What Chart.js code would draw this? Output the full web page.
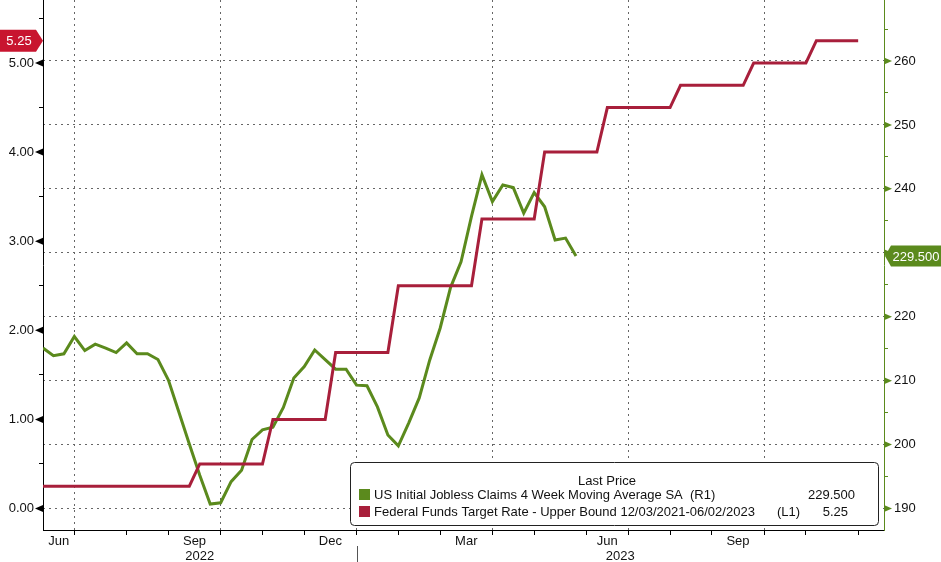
<!DOCTYPE html>
<html>
<head>
<meta charset="utf-8">
<script src="https://cdn.jsdelivr.net/npm/chart.js@4.4.1/dist/chart.umd.min.js"></script>
<style>
  html, body { margin: 0; padding: 0; background: #fff; }
</style>
</head>
<body>
<canvas id="chart" width="941" height="562"></canvas>
<script>
// weekly jobless claims, 4 week moving average (right axis, thousands)
const claimsDates = [
  '2022-06-04', '2022-06-11', '2022-06-18', '2022-06-25', '2022-07-02', '2022-07-09', '2022-07-16',
  '2022-07-23', '2022-07-30', '2022-08-06', '2022-08-13', '2022-08-20', '2022-08-27', '2022-09-03',
  '2022-09-10', '2022-09-17', '2022-09-24', '2022-10-01', '2022-10-08', '2022-10-15', '2022-10-22',
  '2022-10-29', '2022-11-05', '2022-11-12', '2022-11-19', '2022-11-26', '2022-12-03', '2022-12-10',
  '2022-12-17', '2022-12-24', '2022-12-31', '2023-01-07', '2023-01-14', '2023-01-21', '2023-01-28',
  '2023-02-04', '2023-02-11', '2023-02-18', '2023-02-25', '2023-03-04', '2023-03-11', '2023-03-18',
  '2023-03-25', '2023-04-01', '2023-04-08', '2023-04-15', '2023-04-22', '2023-04-29', '2023-05-06',
  '2023-05-13', '2023-05-20', '2023-05-27'
];
const claimsValues = [
  215.1, 213.9, 214.2, 216.9, 214.7, 215.7, 215.1, 214.4, 215.9, 214.2, 214.2, 213.3, 210.1, 205.1,
  200.1, 195.2, 190.7, 190.9, 194.2, 196.0, 200.8, 202.3, 202.7, 205.8, 210.4, 212.2, 214.8, 213.3,
  211.8, 211.8, 209.3, 209.2, 205.9, 201.5, 199.8, 203.4, 207.3, 213.2, 218.2, 224.6, 228.6, 235.7,
  242.2, 238.0, 240.6, 240.2, 236.2, 239.4, 237.2, 232.0, 232.3, 229.5
];

// fed funds upper bound (left axis, %), as plotted
const rateDates = [
  '2022-06-04', '2022-09-10', '2022-09-17', '2022-10-29', '2022-11-05', '2022-12-10', '2022-12-17',
  '2023-01-21', '2023-01-28', '2023-03-18', '2023-03-25', '2023-04-29', '2023-05-06', '2023-06-10',
  '2023-06-17', '2023-07-29', '2023-08-05', '2023-09-16', '2023-09-23', '2023-10-28', '2023-11-04',
  '2023-12-02'
];
const rateValues = [
  0.25, 0.25, 0.50, 0.50, 1.00, 1.00, 1.75, 1.75, 2.50, 2.50, 3.25, 3.25, 4.00, 4.00,
  4.50, 4.50, 4.75, 4.75, 5.00, 5.00, 5.25, 5.25
];

// axis ticks
const monthTickDates = [
  '2022-06-25', '2022-07-30', '2022-08-27', '2022-10-01', '2022-10-29', '2022-11-26', '2022-12-31',
  '2023-01-28', '2023-02-25', '2023-04-01', '2023-04-29', '2023-06-03', '2023-07-01', '2023-07-29',
  '2023-08-26', '2023-09-30', '2023-10-28', '2023-12-02'
];
const quarterTickDates = ['2022-06-25', '2022-10-01', '2022-12-31', '2023-04-01', '2023-07-01', '2023-09-30'];
const monthLabels = ['Jun', 'Sep', 'Dec', 'Mar', 'Jun', 'Sep'];
const monthLabelSpans = [
  ['2022-06-04', '2022-06-25'], ['2022-08-27', '2022-10-01'], ['2022-11-26', '2022-12-31'],
  ['2023-02-25', '2023-04-01'], ['2023-06-03', '2023-07-01'], ['2023-08-26', '2023-09-30']
];
const yearLabels = ['2022', '2023'];
const yearBreak = '2022-12-31';
const leftTicks = [0, 0.5, 1, 1.5, 2, 2.5, 3, 3.5, 4, 4.5, 5, 5.5];
const rightTicks = [190, 195, 200, 205, 210, 215, 220, 225, 230, 235, 240, 245, 250, 255, 260, 265];

const claimsName = 'US Initial Jobless Claims 4 Week Moving Average SA  (R1)';
const rateName = 'Federal Funds Target Rate - Upper Bound 12/03/2021-06/02/2023';

const GREEN = '#5b8a1d';
const RED = '#a81f3b';
const BOX_RED = '#c8152f';
const FONT = '"Liberation Sans", Arial, sans-serif';

const BASE = Date.UTC(2022, 5, 4);
function dayOf(s) {
  const p = s.split('-').map(Number);
  return (Date.UTC(p[0], p[1] - 1, p[2]) - BASE) / 864e5;
}
const quarterDays = quarterTickDates.map(dayOf);

Chart.defaults.font.family = FONT;
Chart.defaults.font.size = 13;
Chart.defaults.color = '#111';

function noPad(w, h) {
  return function (s) {
    if (w) s.width = w;
    if (h) s.height = h;
    s.paddingTop = 0; s.paddingBottom = 0; s.paddingLeft = 0; s.paddingRight = 0;
  };
}

function arrowBox(ctx, x, y, w, h, tipLeft, color, text) {
  ctx.fillStyle = color;
  ctx.beginPath();
  if (tipLeft) {
    ctx.moveTo(x, y);
    ctx.lineTo(x + 6, y - h / 2);
    ctx.lineTo(x + w, y - h / 2);
    ctx.lineTo(x + w, y + h / 2);
    ctx.lineTo(x + 6, y + h / 2);
  } else {
    ctx.moveTo(x + w, y);
    ctx.lineTo(x + w - 7, y - h / 2);
    ctx.lineTo(x, y - h / 2);
    ctx.lineTo(x, y + h / 2);
    ctx.lineTo(x + w - 7, y + h / 2);
  }
  ctx.closePath();
  ctx.fill();
  ctx.fillStyle = '#fff';
  ctx.textBaseline = 'middle';
  ctx.textAlign = 'center';
  ctx.fillText(text, tipLeft ? x + 3 + w / 2 : x + (w - 7) / 2 + 1, y + 1);
}

const decorations = {
  id: 'decorations',
  afterDraw(chart) {
    const ctx = chart.ctx;
    const xs = chart.scales.x, yl = chart.scales.y, yr = chart.scales.y1;
    const area = chart.chartArea;
    ctx.save();
    ctx.font = '13px ' + FONT;

    // tick arrows
    leftTicks.filter(v => Number.isInteger(v)).forEach(v => {
      const y = yl.getPixelForValue(v);
      ctx.fillStyle = '#000';
      ctx.beginPath();
      ctx.moveTo(area.left, y - 3.5);
      ctx.lineTo(area.left, y + 3.5);
      ctx.lineTo(area.left - 8, y);
      ctx.closePath();
      ctx.fill();
    });
    rightTicks.filter(v => v % 10 === 0).forEach(v => {
      const y = yr.getPixelForValue(v);
      ctx.fillStyle = GREEN;
      ctx.beginPath();
      ctx.moveTo(area.right, y - 3.5);
      ctx.lineTo(area.right, y + 3.5);
      ctx.lineTo(area.right + 8, y);
      ctx.closePath();
      ctx.fill();
    });

    // x labels
    ctx.fillStyle = '#111';
    ctx.textAlign = 'center';
    ctx.textBaseline = 'middle';
    monthLabels.forEach((m, i) => {
      const a = Math.max(area.left, xs.getPixelForValue(dayOf(monthLabelSpans[i][0])));
      const b = xs.getPixelForValue(dayOf(monthLabelSpans[i][1]));
      ctx.fillText(m, (a + b) / 2, 541);
    });
    const xb = xs.getPixelForValue(dayOf(yearBreak));
    ctx.fillText(yearLabels[0], (area.left + xb) / 2, 556);
    ctx.fillText(yearLabels[1], (xb + area.right) / 2, 556);
    ctx.strokeStyle = '#555';
    ctx.lineWidth = 1;
    ctx.beginPath();
    ctx.moveTo(Math.round(xb) + 0.5, 546);
    ctx.lineTo(Math.round(xb) + 0.5, 562);
    ctx.stroke();

    // last value boxes
    const lastRate = rateValues[rateValues.length - 1];
    const lastClaims = claimsValues[claimsValues.length - 1];
    arrowBox(ctx, 0, yl.getPixelForValue(lastRate), 43, 22, false, BOX_RED, lastRate.toFixed(2));
    arrowBox(ctx, area.right + 1, yr.getPixelForValue(lastClaims), 56, 21, true, GREEN, lastClaims.toFixed(3));

    // legend box
    ctx.fillStyle = '#fff';
    ctx.strokeStyle = '#222';
    ctx.beginPath();
    ctx.roundRect(350.5, 462.5, 528, 63, 4);
    ctx.fill();
    ctx.stroke();
    ctx.fillStyle = '#111';
    ctx.textAlign = 'center';
    ctx.fillText('Last Price', 607, 481);
    ctx.fillStyle = GREEN;
    ctx.fillRect(359, 489, 11, 11);
    ctx.fillStyle = RED;
    ctx.fillRect(359, 506, 11, 11);
    ctx.fillStyle = '#111';
    ctx.textAlign = 'left';
    ctx.fillText(claimsName, 374, 495);
    ctx.fillText(rateName, 374, 512);
    ctx.fillText('(L1)', 777, 512);
    ctx.textAlign = 'right';
    ctx.fillText(lastClaims.toFixed(3), 855, 495);
    ctx.fillText(lastRate.toFixed(2), 848, 512);
    ctx.restore();
  }
};

new Chart(document.getElementById('chart'), {
  type: 'line',
  data: {
    datasets: [
      {
        label: rateName,
        data: rateDates.map((d, i) => ({ x: dayOf(d), y: rateValues[i] })),
        yAxisID: 'y',
        borderColor: RED,
        borderWidth: 3,
        pointRadius: 0,
        tension: 0
      },
      {
        label: claimsName,
        data: claimsDates.map((d, i) => ({ x: dayOf(d), y: claimsValues[i] })),
        yAxisID: 'y1',
        borderColor: GREEN,
        borderWidth: 3,
        pointRadius: 0,
        tension: 0
      }
    ]
  },
  options: {
    responsive: false,
    devicePixelRatio: 1,
    animation: false,
    layout: { padding: 0 },
    plugins: { legend: { display: false }, tooltip: { enabled: false } },
    scales: {
      x: {
        type: 'linear',
        position: 'bottom',
        min: 0,
        max: 563.3,
        afterBuildTicks: s => { s.ticks = monthTickDates.map(d => ({ value: dayOf(d) })); },
        afterFit: noPad(0, 32),
        ticks: { display: false },
        grid: {
          color: c => quarterDays.includes(c.tick && c.tick.value) ? '#666' : 'rgba(0,0,0,0)',
          tickColor: '#000',
          tickLength: 5
        },
        border: { color: '#000', dash: [2, 4] }
      },
      y: {
        type: 'linear',
        position: 'left',
        min: -0.241,
        max: 5.707,
        afterBuildTicks: s => { s.ticks = leftTicks.map(v => ({ value: v })); },
        afterFit: noPad(43, 0),
        ticks: {
          autoSkip: false,
          padding: 5,
          callback: v => Number.isInteger(v) ? v.toFixed(2) : ''
        },
        grid: { drawOnChartArea: false, tickColor: '#000', tickLength: 4 },
        border: { color: '#000' }
      },
      y1: {
        type: 'linear',
        position: 'right',
        min: 186.64,
        max: 269.54,
        afterBuildTicks: s => { s.ticks = rightTicks.map(v => ({ value: v })); },
        afterFit: noPad(57, 0),
        ticks: {
          autoSkip: false,
          padding: 6,
          callback: v => v % 10 === 0 ? String(v) : ''
        },
        grid: {
          color: c => (c.tick && c.tick.value % 10 === 0) ? '#666' : 'rgba(0,0,0,0)',
          tickColor: GREEN,
          tickLength: 4
        },
        border: { color: GREEN, dash: [2, 4] }
      }
    }
  },
  plugins: [decorations]
});
</script>
</body>
</html>
